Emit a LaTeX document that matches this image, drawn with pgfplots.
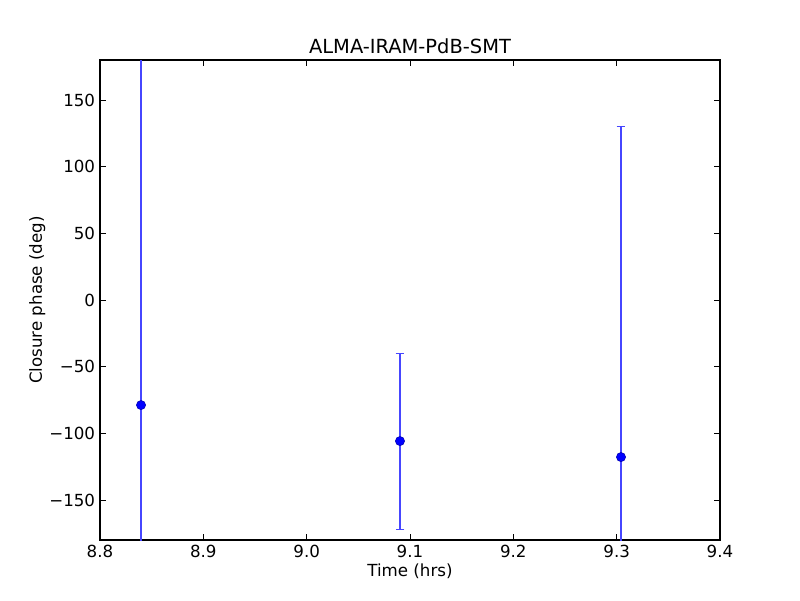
\documentclass[border=0pt]{standalone}
\usepackage{fontspec}
\setmainfont{DejaVu Sans}
\usepackage{pgfplots}
\pgfplotsset{compat=1.18}
\definecolor{errblue}{RGB}{70,70,255}
\begin{document}
\begin{tikzpicture}[x=0.72pt,y=0.72pt]
\path[use as bounding box] (0,0) rectangle (800,600);
\begin{axis}[
  at={(72pt,43.2pt)}, anchor=south west,
  scale only axis,
  width=446.4pt, height=345.6pt,
  xmin=8.8, xmax=9.4, ymin=-180, ymax=180,
  xtick={8.8,8.9,9.0,9.1,9.2,9.3,9.4},
  xticklabels={8.8,8.9,9.0,9.1,9.2,9.3,9.4},
  ytick={-150,-100,-50,0,50,100,150},
  yticklabels={−150,−100,−50,0,50,100,150},
  tick align=inside,
  major tick length=4pt,
  tick style={black, line width=0.5pt},
  axis line style={line width=0.8pt},
  /pgf/number format/assume math mode=true,
  tick label style={font=\fontsize{12}{14}\selectfont},
  label style={font=\fontsize{12}{14}\selectfont},
  title style={font=\fontsize{14}{16}\selectfont, yshift=-5pt},
  title={ALMA-IRAM-PdB-SMT},
  xlabel={Time (hrs)},
  ylabel={Closure phase (deg)},
  xlabel style={yshift=2pt},
  ylabel style={yshift=-4pt},
  clip=true,
]
\addplot[
  only marks, mark=*, mark size=3.3pt, mark options={fill=blue, draw=blue!70!black},
  error bars/.cd, y dir=both, y explicit,
  error bar style={errblue, line width=0.8pt},
  error mark options={rotate=90, mark size=3.2pt, errblue, line width=0.8pt},
] coordinates {
  (8.8397,-78.8) +- (0,300)
  (9.0903,-105.8) +- (0,66)
  (9.3042,-117.8) +- (0,248.2)
};
\end{axis}
\end{tikzpicture}
\end{document}
